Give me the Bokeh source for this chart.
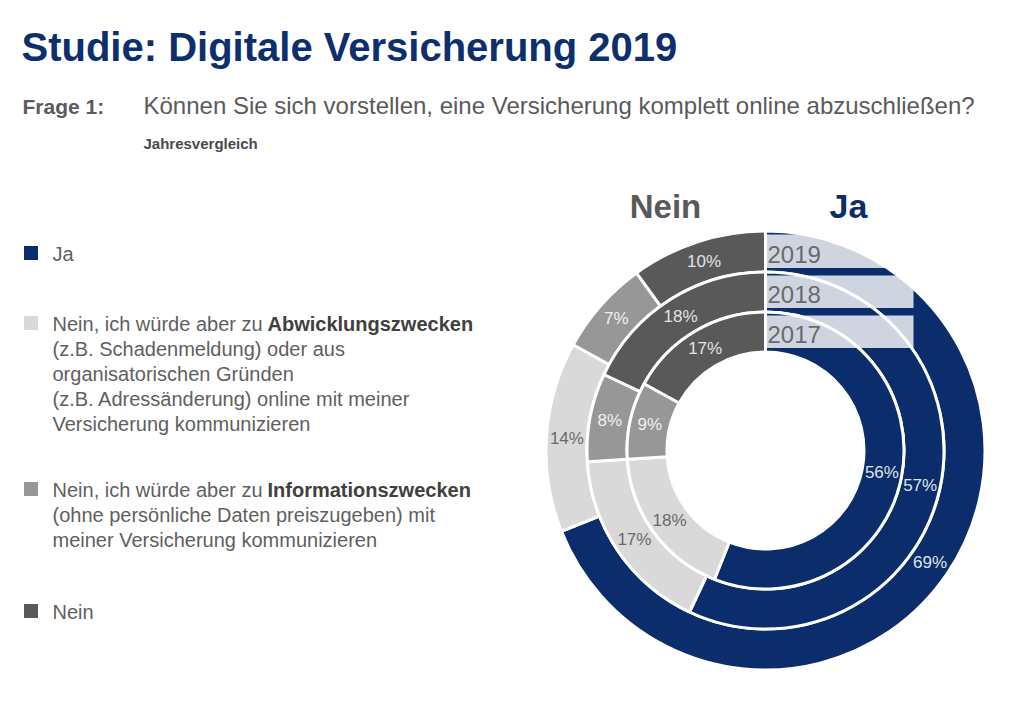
import numpy as np
from bokeh.plotting import figure
from bokeh.models import Range1d, ColumnDataSource
from bokeh.core.properties import value
from bokeh.embed import file_html
from bokeh.resources import INLINE

# ---------------- data ----------------
years = ["2019", "2018", "2017"]
ja = [69, 57, 56]
abwicklung = [14, 17, 18]
information = [7, 8, 9]
nein = [10, 18, 17]

title_text = "Studie: Digitale Versicherung 2019"
frage_label = "Frage 1:"
frage_text = "Können Sie sich vorstellen, eine Versicherung komplett online abzuschließen?"
subtitle_text = "Jahresvergleich"
header_left = "Nein"
header_right = "Ja"

legend_first = ["Ja", "Nein, ich würde aber zu", "Nein, ich würde aber zu", "Nein"]
legend_bold = ["", "Abwicklungszwecken", "Informationszwecken", ""]
legend_more = [
    [],
    ["(z.B. Schadenmeldung) oder aus", "organisatorischen Gründen",
     "(z.B. Adressänderung) online mit meiner", "Versicherung kommunizieren"],
    ["(ohne persönliche Daten preiszugeben) mit", "meiner Versicherung kommunizieren"],
    [],
]

# ---------------- style ----------------
NAVY = "#0b2d6b"
seg_colors = [NAVY, "#d9d9d9", "#979797", "#595959"]
seg_label_colors = ["#dfe4ec", "#6a6a6a", "#f0f0f0", "#e2e2e2"]
FONT = value("Liberation Sans")

W, H = 1008, 687
PAGE_H = 703


def Y(s):
    return PAGE_H - s


def TY(baseline, fs):
    # vertical centre of a text line whose baseline sits at screen y = baseline
    return Y(baseline - 0.34 * fs)


p = figure(width=W, height=H, x_range=Range1d(0, W), y_range=Range1d(PAGE_H - H, PAGE_H),
           output_backend="svg", toolbar_location=None, min_border=0,
           x_axis_type=None, y_axis_type=None)
p.grid.visible = False
p.outline_line_color = None
p.background_fill_color = "white"
p.border_fill_color = "white"

# ---------------- donut ----------------
CX, CY = 765, Y(450)
ring_edges = [(178.5, 219.5), (138.5, 178.5), (98.5, 138.5)]  # 2019 outer, 2018, 2017 inner

wx, wy, rin, rout, sa, ea, col, lx, ly, ltxt, lcol = ([] for _ in range(11))
for i, yr in enumerate(years):
    vals = [ja[i], abwicklung[i], information[i], nein[i]]
    tot = float(sum(vals))
    cum = 0.0
    r0, r1 = ring_edges[i]
    for k, v in enumerate(vals):
        f0 = cum / tot
        f1 = (cum + v) / tot
        cum += v
        wx.append(CX); wy.append(CY)
        rin.append(r0); rout.append(r1)
        sa.append(np.pi / 2 - 2 * np.pi * f1)
        ea.append(np.pi / 2 - 2 * np.pi * f0)
        col.append(seg_colors[k])
        fm = (f0 + f1) / 2
        rm = (r0 + r1) / 2
        lx.append(CX + rm * np.sin(2 * np.pi * fm))
        ly.append(CY + rm * np.cos(2 * np.pi * fm))
        ltxt.append(f"{v}%")
        lcol.append(seg_label_colors[k])

wedges = ColumnDataSource(dict(x=wx, y=wy, rin=rin, rout=rout, sa=sa, ea=ea, color=col))
p.annular_wedge(x="x", y="y", inner_radius="rin", outer_radius="rout",
                start_angle="sa", end_angle="ea", direction="anticlock",
                fill_color="color", line_color="white", line_width=3, source=wedges)

# translucent year boxes
bl, br, bb, bt = [], [], [], []
for i, yr in enumerate(years):
    r0, r1 = ring_edges[i]
    bl.append(CX + 1.5); br.append(CX + 148)
    bt.append(CY + r1 - 3.5); bb.append(CY + r0 + 4)
p.quad(left=bl, right=br, bottom=bb, top=bt, fill_color="white", fill_alpha=0.8, line_color=None)

p.text(x=[CX + 2] * 3, y=[CY + ring_edges[i][0] + 9.5 + 0.34 * 24 for i in range(3)], text=years,
       text_font=FONT, text_font_size="24px", text_color="#6a6a6a",
       text_align="left", text_baseline="middle")

labels = ColumnDataSource(dict(x=lx, y=ly, text=ltxt, color=lcol))
p.text(x="x", y="y", text="text", source=labels, text_font=FONT, text_font_size="17px",
       text_color="color", text_align="center", text_baseline="middle")

# headers above donut
p.text(x=[665], y=[TY(217, 33)], text=[header_left], text_font=FONT, text_font_size="33px",
       text_font_style="bold", text_color="#595959", text_align="center", text_baseline="middle")
p.text(x=[848], y=[TY(217, 34)], text=[header_right], text_font=FONT, text_font_size="34px",
       text_font_style="bold", text_color=NAVY, text_align="center", text_baseline="middle")

# ---------------- titles ----------------
p.text(x=[21], y=[TY(60, 40)], text=[title_text], text_font=FONT, text_font_size="40px",
       text_font_style="bold", text_color="#0d2f6e", text_align="left", text_baseline="middle")
p.text(x=[22], y=[TY(113, 21)], text=[frage_label], text_font=FONT, text_font_size="21px",
       text_font_style="bold", text_color="#5a5a5a", text_align="left", text_baseline="middle")
p.text(x=[143], y=[TY(113, 24)], text=[frage_text], text_font=FONT, text_font_size="24px",
       text_color="#5a5a5a", text_align="left", text_baseline="middle")
p.text(x=[143], y=[TY(148, 15)], text=[subtitle_text], text_font=FONT, text_font_size="15px",
       text_font_style="bold", text_color="#4a4a4a", text_align="left", text_baseline="middle")

# ---------------- legend ----------------
first_baselines = [260, 330, 496, 618]
LS = 25
FS = 20
sq_x, sq_y, sq_c = [], [], []
n_x, n_y, n_t = [], [], []
b_x, b_y, b_t = [], [], []
for k in range(4):
    base = first_baselines[k]
    sq_x.append(30.5); sq_y.append(Y(base - 7.5)); sq_c.append(seg_colors[k])
    n_x.append(52); n_y.append(TY(base, FS)); n_t.append(legend_first[k])
    if legend_bold[k]:
        b_x.append(267); b_y.append(TY(base, FS)); b_t.append(legend_bold[k])
    for j, line in enumerate(legend_more[k]):
        n_x.append(52); n_y.append(TY(base + LS * (j + 1), FS)); n_t.append(line)

p.rect(x=sq_x, y=sq_y, width=14, height=14, fill_color=sq_c, line_color=None)
p.text(x=n_x, y=n_y, text=n_t, text_font=FONT, text_font_size="20px", text_color="#5f5f5f",
       text_align="left", text_baseline="middle")
p.text(x=b_x, y=b_y, text=b_t, text_font=FONT, text_font_size="20px", text_font_style="bold",
       text_color="#404040", text_align="left", text_baseline="middle")

open("out.html", "w").write(file_html(p, INLINE))
